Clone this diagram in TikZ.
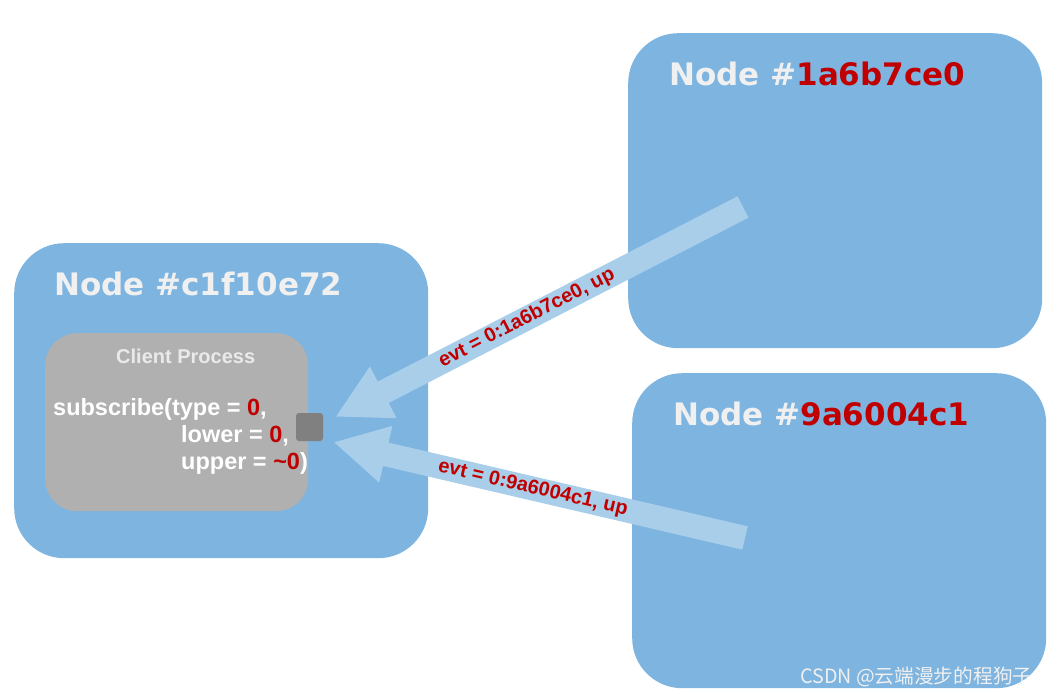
\documentclass[tikz,border=0pt]{standalone}
\usepackage{fontspec}
\setmainfont{Liberation Sans}
\newfontfamily\headfont{DejaVu Sans}
\newfontfamily\cjkfont{Noto Sans CJK SC}
\usetikzlibrary{arrows.meta,positioning}

\begin{document}
\begin{tikzpicture}[x=1pt, y=-1pt,
  hostbox/.style={fill=hostblue, rounded corners=50pt, inner sep=0pt,
    minimum width=414pt, minimum height=315pt, anchor=north west},
  procbox/.style={fill=procgray, rounded corners=32pt, inner sep=0pt},
  hosttitle/.style={text=titlewhite, inner sep=0pt, anchor=base west,
    font=\headfont\bfseries\fontsize{31}{37}\selectfont},
  calltext/.style={text=white, inner sep=0pt, anchor=base west,
    font=\bfseries\fontsize{23.5}{28}\selectfont},
  evtarrow/.style={draw=arrowblue, line width=24pt,
    -{Triangle[width=54pt,length=54pt]}},
  evtlabel/.style={text=idred, sloped, inner sep=0pt,
    font=\bfseries\fontsize{20}{24}\selectfont}
]
  % Define colors
  \definecolor{hostblue}{HTML}{7EB4E0}
  \definecolor{arrowblue}{HTML}{A9CEE9}
  \definecolor{procgray}{HTML}{B0B0B0}
  \definecolor{portgray}{HTML}{808080}
  \definecolor{titlewhite}{HTML}{F0F0F0}
  \definecolor{idred}{HTML}{C00000}

  \useasboundingbox (0,0) rectangle (1047,696);

  % Host nodes
  \node[hostbox] (hostC) at (14,243) {};
  \node[hostbox] (hostA) at (628,33) {};
  \node[hostbox] (hostB) at (632,373) {};

  \node[hosttitle] (titleC) at ([shift={(40,52)}]hostC.north west) {Node \#c1f10e72};
  \node[hosttitle] (titleA) at ([shift={(41,52)}]hostA.north west) {Node \#\textcolor{idred}{1a6b7ce0}};
  \node[hosttitle] (titleB) at ([shift={(41,52)}]hostB.north west) {Node \#\textcolor{idred}{9a6004c1}};

  % Client process
  \node[procbox, minimum width=263pt, minimum height=178pt, anchor=north west] (proc) at (45,333) {};
  \node[text=titlewhite!90!procgray, anchor=base, inner sep=0pt,
    font=\bfseries\fontsize{20}{24}\selectfont] (proclabel) at ([shift={(9,30)}]proc.north) {Client Process};
  \node[calltext] (call1) at ([shift={(8,82)}]proc.north west) {subscribe(type = \textcolor{idred}{0},};
  \node[calltext] (call2) at ([shift={(136,109)}]proc.north west) {lower = \textcolor{idred}{0},};
  \node[calltext] (call3) at ([shift={(136,136)}]proc.north west) {upper = \textcolor{idred}{\textasciitilde0})};

  % Subscription port
  \node[fill=portgray, rounded corners=3pt, minimum width=27pt, minimum height=28pt,
    inner sep=0pt] (port) at (309.5,427) {};

  % Events
  \coordinate (src1) at (743,207);
  \coordinate (src2) at (745,538);
  \coordinate (tip1) at ([shift={(12,-10)}]port.east);
  \coordinate (tip2) at ([shift={(10,15)}]port.east);

  \draw[evtarrow] (src1) -- (tip1) node[evtlabel, pos=0.53] (evt1) {evt = 0:1a6b7ce0, up};
  \draw[evtarrow] (src2) -- (tip2) node[evtlabel, pos=0.515] (evt2) {evt = 0:9a6004c1, up};

  % Watermark
  \node[anchor=base west, inner sep=0pt, text=titlewhite,
    font=\cjkfont\fontsize{19.7}{23}\selectfont] (mark) at (800,683) {CSDN @云端漫步的程狗子};
\end{tikzpicture}
\end{document}
